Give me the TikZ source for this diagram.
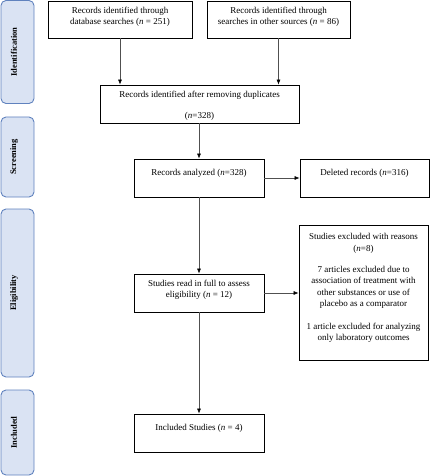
\documentclass[tikz,border=0pt]{standalone}
\usepackage{fontspec}
\setmainfont{Liberation Serif}
\usetikzlibrary{arrows.meta}
\definecolor{phfill}{RGB}{218,227,243}
\definecolor{phdraw}{RGB}{96,130,190}
\definecolor{arrgray}{RGB}{80,80,80}
\begin{document}
\begin{tikzpicture}[x=1pt,y=-1pt,
  box/.style={draw=black, line width=0.8pt, rectangle, inner sep=0pt},
  txt/.style={font=\fontsize{9}{11.5}\selectfont, align=center, inner sep=0pt},
  phase/.style={draw=phdraw, fill=phfill, line width=0.9pt, rounded corners=5pt, rectangle, inner sep=0pt},
  phlabel/.style={font=\bfseries\fontsize{8.5}{10}\selectfont, rotate=90, inner sep=0pt},
  arr/.style={draw=arrgray, line width=0.6pt, -{Latex[length=5pt,width=4pt,color=black]}}]
\useasboundingbox (0,0) rectangle (430,476);
% phase bars
\node[phase, minimum width=33pt, minimum height=103pt] (p1) at (17.5,52) {};
\node[phase, minimum width=33pt, minimum height=80pt] (p2) at (17.5,157) {};
\node[phase, minimum width=33pt, minimum height=168pt] (p3) at (17.5,293) {};
\node[phase, minimum width=33pt, minimum height=85pt] (p4) at (17.5,432.5) {};
\node[phlabel] (l1) at (14,52) {Identification};
\node[phlabel] (l2) at (14,157) {Screening};
\node[phlabel] (l3) at (14,293) {Eligibility};
\node[phlabel] (l4) at (14,432.5) {Included};
% boxes
\node[box, minimum width=144pt, minimum height=37pt] (a) at (120,19.5) {};
\node[txt] (ta) at (120,17) {Records identified through\\database searches (\textit{n} = 251)};
\node[box, minimum width=143pt, minimum height=37pt] (b) at (278.5,19.5) {};
\node[txt] (tb) at (278.5,17) {Records identified through\\searches in other sources (\textit{n} = 86)};
\node[box, minimum width=199pt, minimum height=38pt] (c) at (199.5,104) {};
\node[txt] (tc1) at (199.5,95) {Records identified after removing duplicates};
\node[txt] (tc2) at (199.5,116) {(\textit{n}=328)};
\node[box, minimum width=130pt, minimum height=38pt] (d) at (199,178) {};
\node[txt] (td) at (199,173) {Records analyzed (\textit{n}=328)};
\node[box, minimum width=129pt, minimum height=38pt] (e) at (364.5,178) {};
\node[txt] (te) at (364.5,173) {Deleted records (\textit{n}=316)};
\node[box, minimum width=130pt, minimum height=38pt] (f) at (199,293) {};
\node[txt] (tf) at (199,290) {Studies read in full to assess\\eligibility (\textit{n} = 12)};
\node[box, minimum width=129pt, minimum height=135pt] (g) at (363.5,292.5) {};
\node[txt] (tg1) at (363.5,243.5) {Studies excluded with reasons\\(\textit{n}=8)};
\node[txt] (tg2) at (363.5,287.5) {7 articles excluded due to\\association of treatment with\\other substances or use of\\placebo as a comparator};
\node[txt] (tg3) at (363.5,333) {1 article excluded for analyzing\\only laboratory outcomes};
\node[box, minimum width=130pt, minimum height=38pt] (h) at (199,433) {};
\node[txt] (th) at (199,428) {Included Studies (\textit{n} = 4)};
% arrows
\draw[arr] (a.south) -- (a.south |- c.north);
\draw[arr] (b.south) -- (b.south |- c.north);
\draw[arr] (c.south -| d.north) -- (d.north);
\draw[arr] (d.east) -- (e.west);
\draw[arr] (d.south) -- (f.north);
\draw[arr] (f.east) -- (g.west |- f.east);
\draw[arr] (f.south) -- (h.north);
\end{tikzpicture}
\end{document}
